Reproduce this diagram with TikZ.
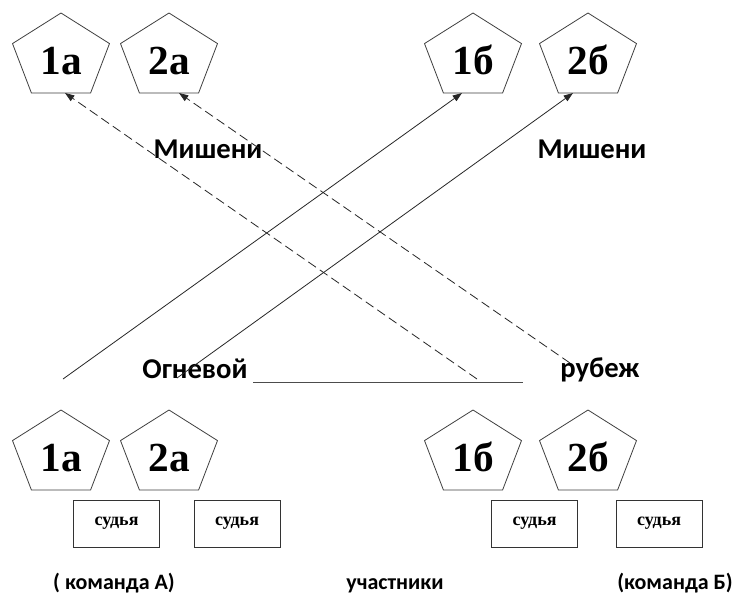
\documentclass[tikz,border=0pt]{standalone}
\usepackage{fontspec}
\setmainfont{Liberation Serif}
\newfontfamily\calfont{Carlito}
\usetikzlibrary{calc,arrows.meta}
\tikzset{
  pentbox/.style={minimum width=97*0.75pt, minimum height=80*0.75pt, inner sep=0pt, outer sep=0pt,
    text height=31.5pt, text depth=0pt,
    font=\bfseries\fontsize{31}{31}\selectfont},
  pentline/.style={draw=black!75, line width=0.6pt},
  judge/.style={draw=black!80, line width=0.6pt, minimum width=86*0.75pt, minimum height=47*0.75pt, inner sep=0pt,
    font=\bfseries\fontsize{13.5}{13.5}\selectfont},
  lbl/.style={font=\calfont\bfseries\fontsize{21.5}{21.5}\selectfont, inner sep=0pt},
  bot/.style={font=\calfont\bfseries\fontsize{16.5}{16.5}\selectfont, inner sep=0pt, anchor=base},
  shot/.style={draw=black!85, line width=0.6pt, -{Triangle[length=7pt,width=5pt]}},
  miss/.style={shot, dash pattern=on 7pt off 3.5pt},
}
\newcommand{\pentagon}[4]{%
  \node[pentbox] (#1) at (#2,#3) {#4};
  \draw[pentline] (#1.north) -- ($(#1.north east)!0.382!(#1.south east)$)
    -- ($(#1.south west)!0.805!(#1.south east)$) -- ($(#1.south west)!0.195!(#1.south east)$)
    -- ($(#1.north west)!0.382!(#1.south west)$) -- cycle;
}
\begin{document}
\begin{tikzpicture}[x=0.75pt,y=-0.75pt]
\useasboundingbox[fill=white] (0,0) rectangle (734,594);
% targets
\pentagon{ta1}{61}{53}{1а}
\pentagon{ta2}{169}{53}{2а}
\pentagon{tb1}{473}{53}{1б}
\pentagon{tb2}{588}{53}{2б}
% shooters
\pentagon{sa1}{61}{450}{1а}
\pentagon{sa2}{169}{450}{2а}
\pentagon{sb1}{473}{450}{1б}
\pentagon{sb2}{588}{450}{2б}
% judges
\node[judge] (j1) at (116.5,523.5) {судья};
\node[judge] (j2) at (237,523.5) {судья};
\node[judge] (j3) at (534.5,523.5) {судья};
\node[judge] (j4) at (659,523.5) {судья};
% labels
\node[lbl,anchor=base] (m1) at (208,158) {Мишени};
\node[lbl,anchor=base] (m2) at (592,158) {Мишени};
\node[lbl,anchor=base] (og) at (195,378) {Огневой};
\node[lbl,anchor=base] (rb) at (600,377) {рубеж};
\coordinate (l1) at (253,382);
\coordinate (l2) at (523,382);
\draw[draw=black!70, line width=0.7pt] (l1) -- (l2);
\node[bot] (ka) at (114,589) {( команда А)};
\node[bot] (uc) at (395,589) {участники};
\node[bot] (kb) at (675,589) {(команда Б)};
% shots
\coordinate (s1) at (63,379);
\coordinate (s2) at (177,378);
\coordinate (s3) at (477,379);
\coordinate (s4) at (570,363);
\coordinate (e1) at (462,93);
\coordinate (e2) at (573,93);
\coordinate (e3) at (65,93);
\coordinate (e4) at (179,93);
\draw[shot] (s1) -- (e1);
\draw[shot] (s2) -- (e2);
\draw[miss] (s3) -- (e3);
\draw[miss] (s4) -- (e4);
\end{tikzpicture}
\end{document}
